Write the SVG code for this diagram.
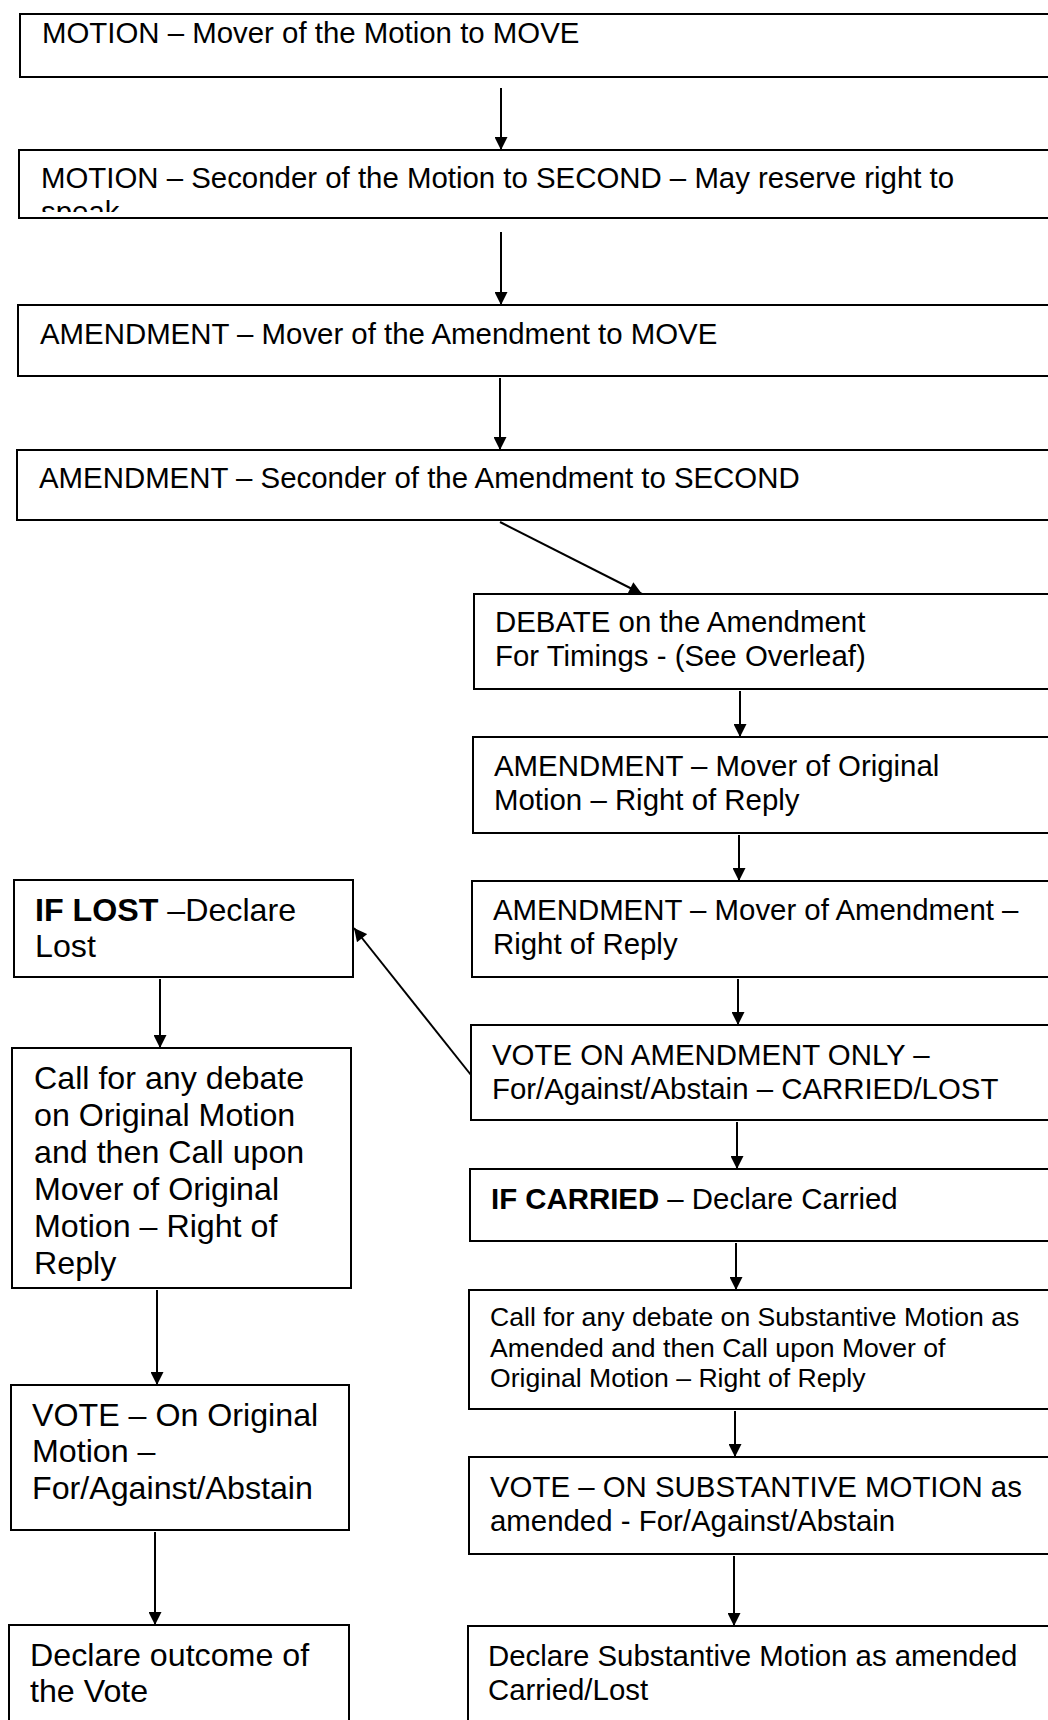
<svg xmlns="http://www.w3.org/2000/svg" width="1048" height="1720" viewBox="0 0 1048 1720">
<style>
.box{fill:#fff;stroke:#000;stroke-width:2}
.t{font-family:"Liberation Sans",Arial,sans-serif;font-size:29.4px;fill:#000}
.tl{font-family:"Liberation Sans",Arial,sans-serif;font-size:32.2px;fill:#000}
.ts{font-family:"Liberation Sans",Arial,sans-serif;font-size:26.6px;fill:#000}
.b{font-weight:bold}
.c{stroke:#000;stroke-width:2;fill:none;marker-end:url(#ah)}
</style>
<defs>
<marker id="ah" viewBox="0 0 10 10" refX="10" refY="5" markerWidth="14" markerHeight="13" markerUnits="userSpaceOnUse" orient="auto">
<path d="M0,0 L10,5 L0,10 z" fill="#000"/>
</marker>
<clipPath id="clip2"><rect x="20" y="151" width="1040" height="61"/></clipPath>
</defs>
<rect width="1048" height="1720" fill="#fff"/>

<g id="n1"><rect class="box" x="20" y="14" width="1040" height="63"/><text class="t" x="42" y="43">MOTION – Mover of the Motion to MOVE</text></g>
<g id="n2"><rect class="box" x="19" y="150" width="1040" height="68"/><g clip-path="url(#clip2)"><text class="t" x="41" y="188">MOTION – Seconder of the Motion to SECOND – May reserve right to</text><text class="t" x="41" y="222">speak</text></g></g>
<g id="n3"><rect class="box" x="18" y="305" width="1040" height="71"/><text class="t" x="40" y="344">AMENDMENT – Mover of the Amendment to MOVE</text></g>
<g id="n4"><rect class="box" x="17" y="450" width="1040" height="70"/><text class="t" x="39" y="488">AMENDMENT – Seconder of the Amendment to SECOND</text></g>
<g id="n5"><rect class="box" x="474" y="594" width="590" height="95"/><text class="t" x="495" y="632">DEBATE on the Amendment</text><text class="t" x="495" y="666">For Timings - (See Overleaf)</text></g>
<g id="n6"><rect class="box" x="473" y="737" width="590" height="96"/><text class="t" x="494" y="776">AMENDMENT – Mover of Original</text><text class="t" x="494" y="810">Motion – Right of Reply</text></g>
<g id="n7"><rect class="box" x="472" y="881" width="590" height="96"/><text class="t" x="493" y="920">AMENDMENT – Mover of Amendment –</text><text class="t" x="493" y="954">Right of Reply</text></g>
<g id="n8"><rect class="box" x="471" y="1025" width="590" height="95"/><text class="t" x="492" y="1065">VOTE ON AMENDMENT ONLY –</text><text class="t" x="492" y="1099">For/Against/Abstain – CARRIED/LOST</text></g>
<g id="n9"><rect class="box" x="470" y="1169" width="590" height="72"/><text class="t" x="491" y="1209"><tspan class="b">IF CARRIED</tspan> – Declare Carried</text></g>
<g id="n10"><rect class="box" x="469" y="1290" width="590" height="119"/><text class="ts" x="490" y="1326">Call for any debate on Substantive Motion as</text><text class="ts" x="490" y="1357">Amended and then Call upon Mover of</text><text class="ts" x="490" y="1387">Original Motion – Right of Reply</text></g>
<g id="n11"><rect class="box" x="469" y="1457" width="590" height="97"/><text class="t" x="490" y="1497">VOTE – ON SUBSTANTIVE MOTION as</text><text class="t" x="490" y="1531">amended - For/Against/Abstain</text></g>
<g id="n12"><rect class="box" x="468" y="1626" width="590" height="110"/><text class="t" x="488" y="1666">Declare Substantive Motion as amended</text><text class="t" x="488" y="1700">Carried/Lost</text></g>

<g id="n13"><rect class="box" x="14" y="880" width="339" height="97"/><text class="tl" x="35" y="921"><tspan class="b">IF LOST</tspan> –Declare</text><text class="tl" x="35" y="957">Lost</text></g>
<g id="n14"><rect class="box" x="12" y="1048" width="339" height="240"/><text class="tl" x="34" y="1089">Call for any debate</text><text class="tl" x="34" y="1126">on Original Motion</text><text class="tl" x="34" y="1163">and then Call upon</text><text class="tl" x="34" y="1200">Mover of Original</text><text class="tl" x="34" y="1237">Motion – Right of</text><text class="tl" x="34" y="1274">Reply</text></g>
<g id="n15"><rect class="box" x="11" y="1385" width="338" height="145"/><text class="tl" x="32" y="1426">VOTE – On Original</text><text class="tl" x="32" y="1462">Motion –</text><text class="tl" x="32" y="1499">For/Against/Abstain</text></g>
<g id="n16"><rect class="box" x="9" y="1625" width="340" height="110"/><text class="tl" x="30" y="1666">Declare outcome of</text><text class="tl" x="30" y="1702">the Vote</text></g>

<g id="connectors">
<line class="c" x1="501" y1="88" x2="501" y2="150"/>
<line class="c" x1="501" y1="232" x2="501" y2="305"/>
<line class="c" x1="500" y1="378" x2="500" y2="450"/>
<line class="c" x1="500" y1="522" x2="642" y2="594"/>
<line class="c" x1="740" y1="691" x2="740" y2="737"/>
<line class="c" x1="739" y1="835" x2="739" y2="881"/>
<line class="c" x1="738" y1="979" x2="738" y2="1025"/>
<line class="c" x1="737" y1="1122" x2="737" y2="1169"/>
<line class="c" x1="736" y1="1243" x2="736" y2="1290"/>
<line class="c" x1="735" y1="1411" x2="735" y2="1457"/>
<line class="c" x1="734" y1="1556" x2="734" y2="1626"/>
<line class="c" x1="471" y1="1075" x2="354" y2="928"/>
<line class="c" x1="160" y1="979" x2="160" y2="1048"/>
<line class="c" x1="157" y1="1290" x2="157" y2="1385"/>
<line class="c" x1="155" y1="1532" x2="155" y2="1625"/>
</g>
</svg>
